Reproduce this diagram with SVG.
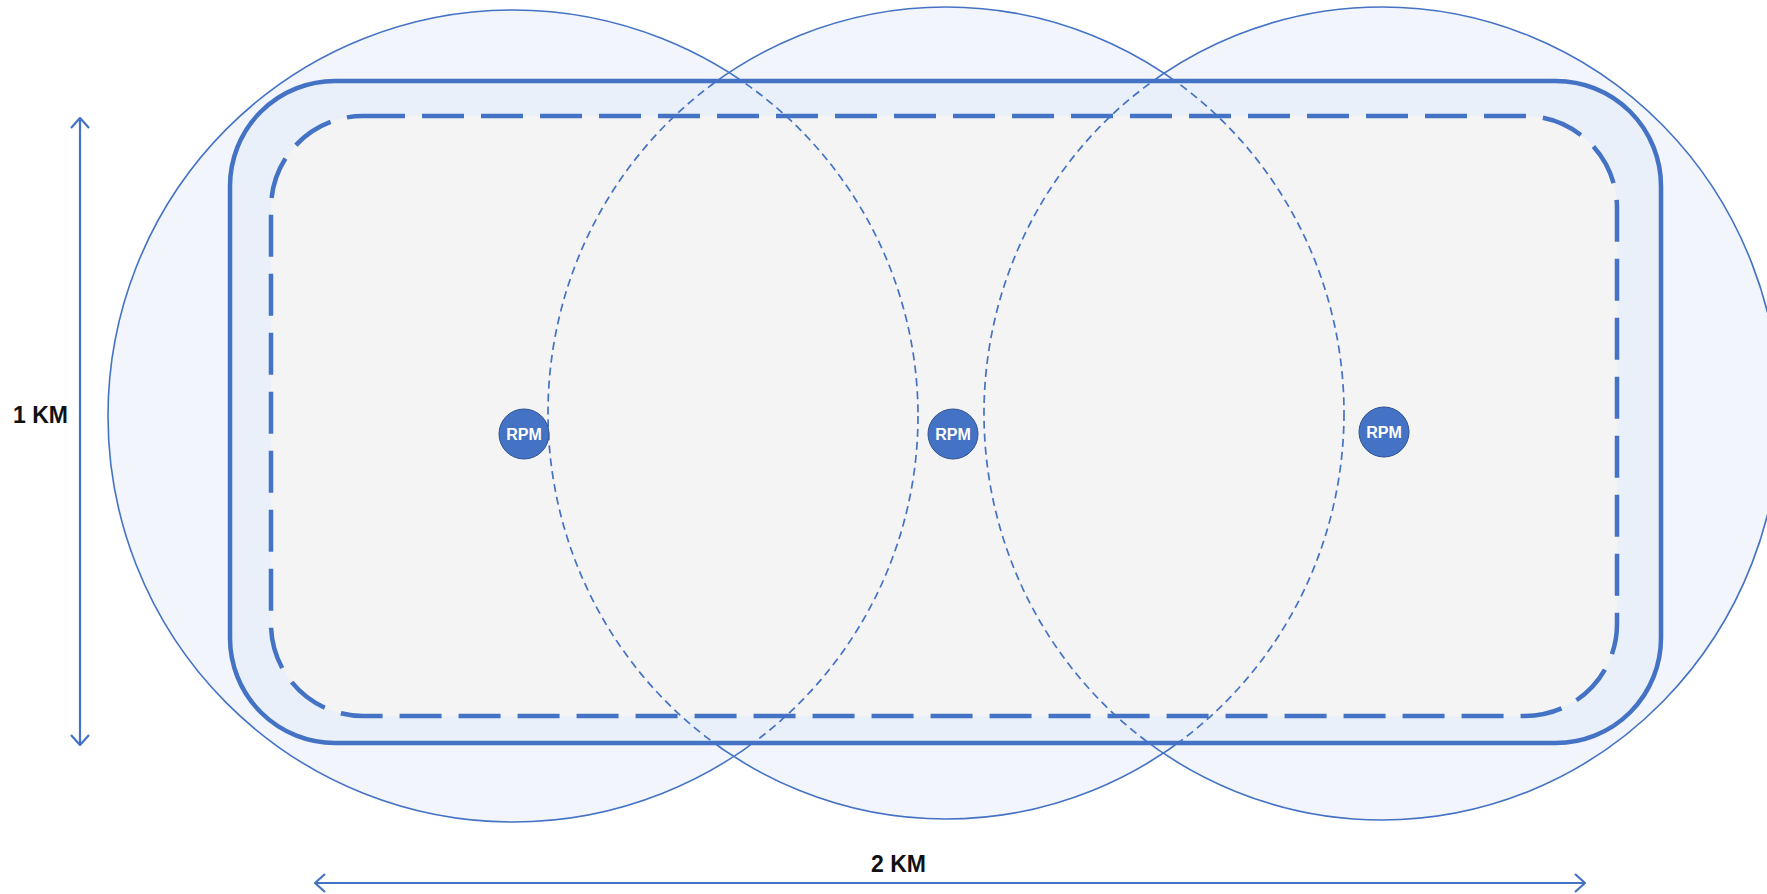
<svg xmlns="http://www.w3.org/2000/svg" width="1767" height="894" viewBox="0 0 1767 894">
  <style>
    .cfill { fill: #F2F5FB; stroke: none; }
    .cline { fill: none; stroke: #4472C4; stroke-width: 1.6; }
    .cdash { fill: none; stroke: #4472C4; stroke-width: 1.7; stroke-dasharray: 8 5; }
    .outer { fill: #E9F0F9; stroke: #4472C4; stroke-width: 4.5; }
    .inner { fill: #F4F4F4; stroke: #4472C4; stroke-width: 4.5; stroke-dasharray: 42 17; }
    .dim { stroke: #4472C4; stroke-width: 2.2; fill: none; }
    .lbl { font-family: "Liberation Sans", Arial, sans-serif; font-weight: bold; font-size: 23px; fill: #111111; }
    .node { fill: #4472C4; stroke: #2F528F; stroke-width: 1; }
    .ntxt { font-family: "Liberation Sans", Arial, sans-serif; font-weight: bold; font-size: 16px; fill: #FFFFFF; text-anchor: middle; }
  </style>
  <defs>
    <clipPath id="rectClip">
      <rect x="230" y="81" width="1431" height="662" rx="105" ry="105"/>
    </clipPath>
    <marker id="open" viewBox="0 0 12 20" refX="11" refY="10" markerWidth="12" markerHeight="20" markerUnits="userSpaceOnUse" orient="auto-start-reverse">
      <path d="M1,1 L11,10 L1,19" fill="none" stroke="#4472C4" stroke-width="2.2"/>
    </marker>
  </defs>
  <rect width="1767" height="894" fill="#FFFFFF"/>

  <g id="coverage">
    <ellipse class="cfill" cx="513" cy="416" rx="405" ry="406"/>
    <ellipse class="cfill" cx="946" cy="413" rx="398" ry="406"/>
    <ellipse class="cfill" cx="1382" cy="413.5" rx="398" ry="406.5"/>
    <ellipse class="cline" cx="513" cy="416" rx="405" ry="406"/>
    <ellipse class="cline" cx="946" cy="413" rx="398" ry="406"/>
    <ellipse class="cline" cx="1382" cy="413.5" rx="398" ry="406.5"/>
  </g>

  <g id="area">
    <rect class="outer" x="230" y="81" width="1431" height="662" rx="105" ry="105"/>
    <rect class="inner" x="271" y="116" width="1346" height="600" rx="92" ry="92"/>
  </g>

  <g id="coverage-inside" clip-path="url(#rectClip)">
    <ellipse class="cdash" cx="513" cy="416" rx="405" ry="406"/>
    <ellipse class="cdash" cx="946" cy="413" rx="398" ry="406"/>
    <ellipse class="cdash" cx="1382" cy="413.5" rx="398" ry="406.5"/>
  </g>

  <g id="rpm1">
    <circle class="node" cx="524" cy="434" r="25"/>
    <text class="ntxt" x="524" y="440">RPM</text>
  </g>
  <g id="rpm2">
    <circle class="node" cx="953" cy="434" r="25"/>
    <text class="ntxt" x="953" y="440">RPM</text>
  </g>
  <g id="rpm3">
    <circle class="node" cx="1384" cy="432" r="25"/>
    <text class="ntxt" x="1384" y="438">RPM</text>
  </g>

  <g id="connectors">
    <line class="dim" x1="80" y1="118" x2="80" y2="745" marker-start="url(#open)" marker-end="url(#open)"/>
    <line class="dim" x1="315" y1="883" x2="1585" y2="883" marker-start="url(#open)" marker-end="url(#open)"/>
  </g>

  <g id="labels">
    <text class="lbl" x="13" y="423">1 KM</text>
    <text class="lbl" x="871" y="872">2 KM</text>
  </g>
</svg>
